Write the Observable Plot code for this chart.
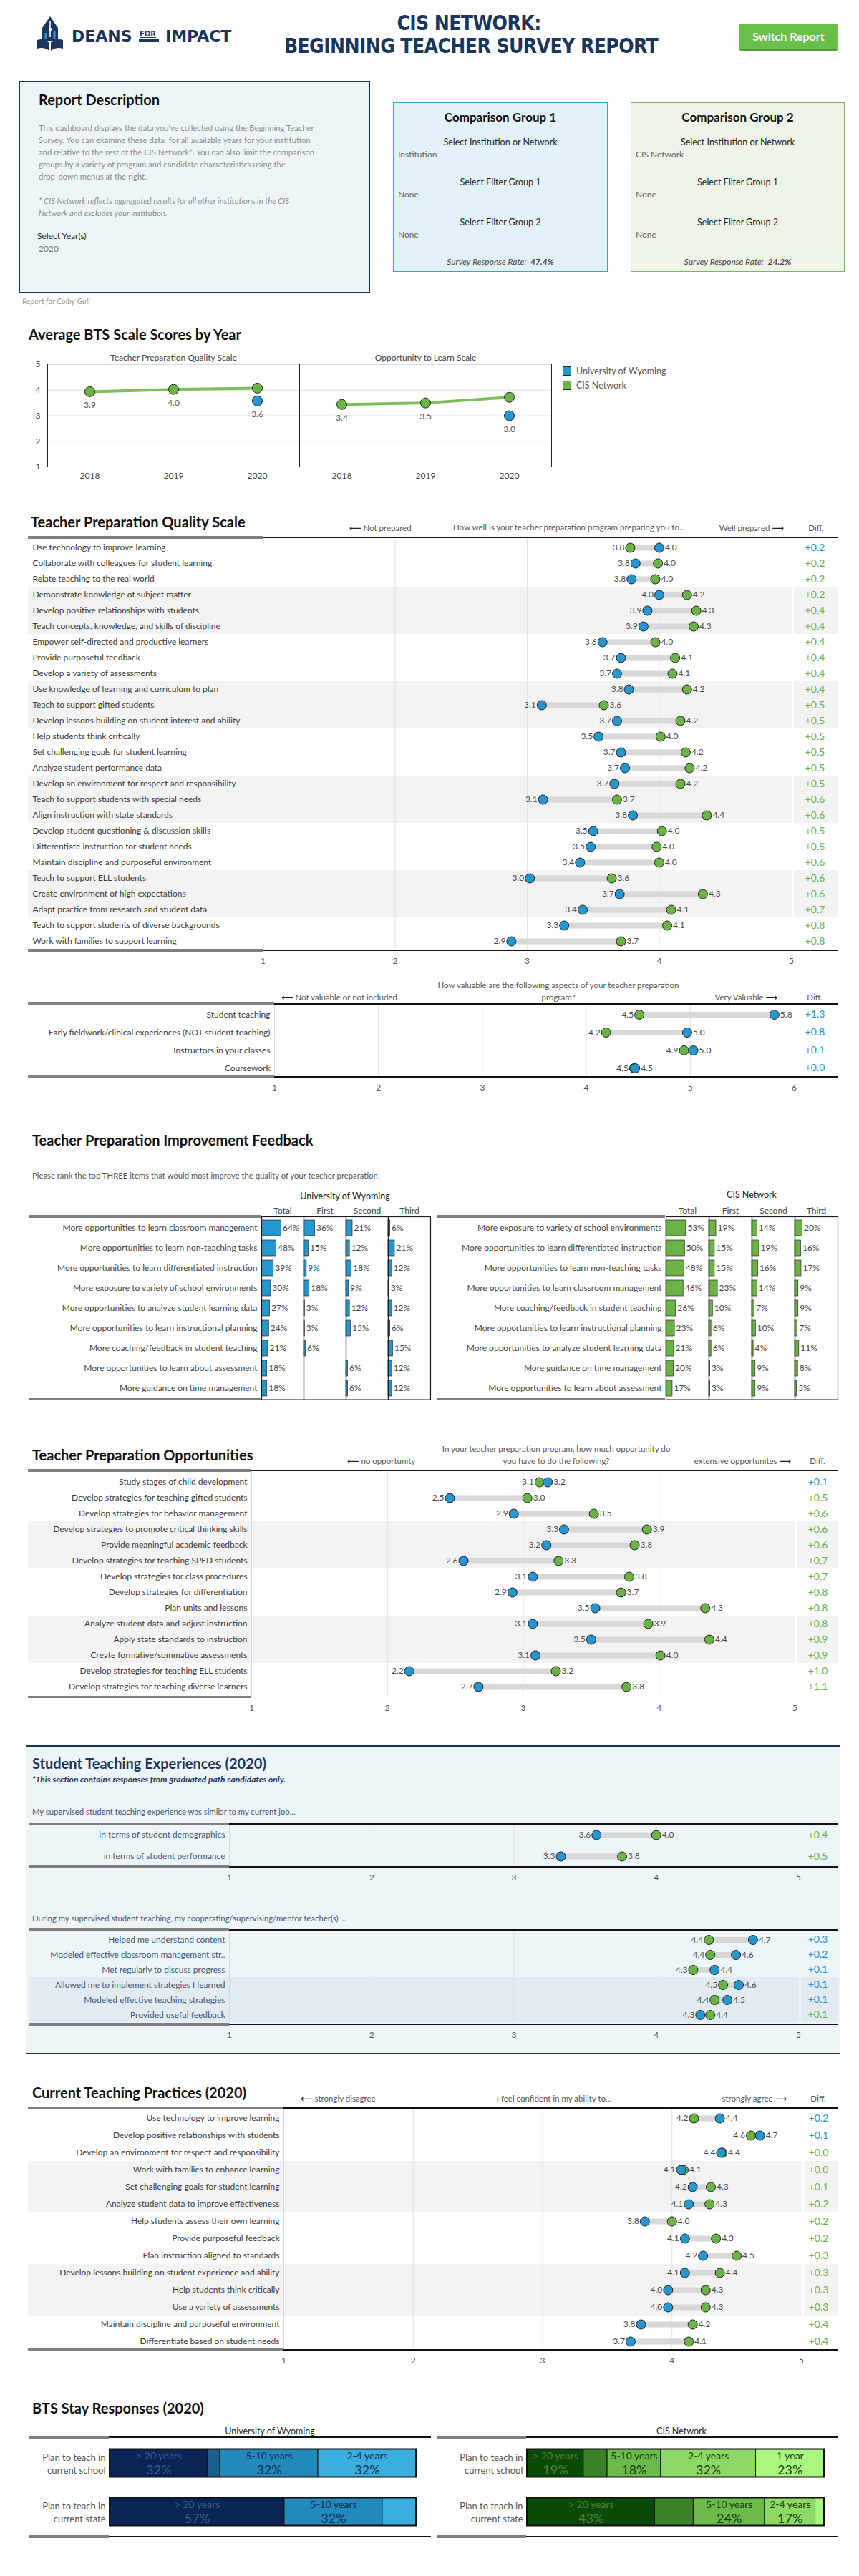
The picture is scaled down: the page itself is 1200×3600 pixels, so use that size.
<!DOCTYPE html>
<html><head><meta charset="utf-8">
<script src="https://cdn.jsdelivr.net/npm/d3@7"></script>
<script src="https://cdn.jsdelivr.net/npm/@observablehq/plot@0.6"></script>
<style>
html,body{margin:0;padding:0;background:#fff;}
#page{position:relative;width:1200px;height:3600px;overflow:hidden;font-family:Lato,"Open Sans",sans-serif;color:#333;background:#fff;}
.arr{font-family:"DejaVu Sans",sans-serif;font-weight:bold;color:#222;}
</style></head>
<body><div id="page"></div>
<script>
// ---------------- DATA ----------------
const years = [2018, 2019, 2020];
const scaleNames = ["Teacher Preparation Quality Scale", "Opportunity to Learn Scale"];
const cisTPQByYear = [3.94, 4.03, 4.08];
const uwTPQByYear = [null, null, 3.58];
const cisOTLByYear = [3.44, 3.50, 3.72];
const uwOTLByYear = [null, null, 3.00];
const responseRates = ["47.4%", "24.2%"];

const tpqItems = ["Use technology to improve learning", "Collaborate with colleagues for student learning", "Relate teaching to the real world",
  "Demonstrate knowledge of subject matter", "Develop positive relationships with students", "Teach concepts, knowledge, and skills of discipline",
  "Empower self-directed and productive learners", "Provide purposeful feedback", "Develop a variety of assessments",
  "Use knowledge of learning and curriculum to plan", "Teach to support gifted students", "Develop lessons building on student interest and ability",
  "Help students think critically", "Set challenging goals for student learning", "Analyze student performance data",
  "Develop an environment for respect and responsibility", "Teach to support students with special needs", "Align instruction with state standards",
  "Develop student questioning & discussion skills", "Differentiate instruction for student needs", "Maintain discipline and purposeful environment",
  "Teach to support ELL students", "Create environment of high expectations", "Adapt practice from research and student data",
  "Teach to support students of diverse backgrounds", "Work with families to support learning"];
const tpqUW = [4.00, 3.82, 3.79, 4.00, 3.91, 3.88, 3.57, 3.71, 3.68, 3.77, 3.11, 3.68, 3.54, 3.71, 3.74, 3.66, 3.12, 3.80, 3.50, 3.48, 3.40, 3.02, 3.70, 3.42, 3.28, 2.88];
const tpqCIS = [3.78, 3.99, 3.97, 4.21, 4.28, 4.26, 3.97, 4.12, 4.10, 4.21, 3.58, 4.16, 4.01, 4.20, 4.23, 4.16, 3.68, 4.36, 4.02, 3.98, 4.00, 3.64, 4.33, 4.09, 4.06, 3.71];
const tpqDiff = [0.2, 0.2, 0.2, 0.2, 0.4, 0.4, 0.4, 0.4, 0.4, 0.4, 0.5, 0.5, 0.5, 0.5, 0.5, 0.5, 0.6, 0.6, 0.5, 0.5, 0.6, 0.6, 0.6, 0.7, 0.8, 0.8];

const valItems = ["Student teaching", "Early fieldwork/clinical experiences (NOT student teaching)", "Instructors in your classes", "Coursework"];
const valUW = [5.81, 4.97, 5.03, 4.47];
const valCIS = [4.51, 4.19, 4.94, 4.46];
const valDiff = [1.3, 0.8, 0.1, 0.0];

const fbCols = ["Total", "First", "Second", "Third"];
const uwFbItems = ["More opportunities to learn classroom management", "More opportunities to learn non-teaching tasks",
  "More opportunities to learn differentiated instruction", "More exposure to variety of school environments",
  "More opportunities to analyze student learning data", "More opportunities to learn instructional planning",
  "More coaching/feedback in student teaching", "More opportunities to learn about assessment", "More guidance on time management"];
const uwFbTotal = [64, 48, 39, 30, 27, 24, 21, 18, 18];
const uwFbFirst = [36, 15, 9, 18, 3, 3, 6, null, null];
const uwFbSecond = [21, 12, 18, 9, 12, 15, null, 6, 6];
const uwFbThird = [6, 21, 12, 3, 12, 6, 15, 12, 12];
const cisFbItems = ["More exposure to variety of school environments", "More opportunities to learn differentiated instruction",
  "More opportunities to learn non-teaching tasks", "More opportunities to learn classroom management",
  "More coaching/feedback in student teaching", "More opportunities to learn instructional planning",
  "More opportunities to analyze student learning data", "More guidance on time management", "More opportunities to learn about assessment"];
const cisFbTotal = [53, 50, 48, 46, 26, 23, 21, 20, 17];
const cisFbFirst = [19, 15, 15, 23, 10, 6, 6, 3, 3];
const cisFbSecond = [14, 19, 16, 14, 7, 10, 4, 9, 9];
const cisFbThird = [20, 16, 17, 9, 9, 7, 11, 8, 5];

const oppItems = ["Study stages of child development", "Develop strategies for teaching gifted students", "Develop strategies for behavior management",
  "Develop strategies to promote critical thinking skills", "Provide meaningful academic feedback", "Develop strategies for teaching SPED students",
  "Develop strategies for class procedures", "Develop strategies for differentiation", "Plan units and lessons",
  "Analyze student data and adjust instruction", "Apply state standards to instruction", "Create formative/summative assessments",
  "Develop strategies for teaching ELL students", "Develop strategies for teaching diverse learners"];
const oppUW = [3.18, 2.46, 2.93, 3.30, 3.17, 2.56, 3.07, 2.92, 3.53, 3.07, 3.50, 3.09, 2.16, 2.67];
const oppCIS = [3.12, 3.03, 3.52, 3.91, 3.82, 3.26, 3.78, 3.72, 4.34, 3.92, 4.37, 4.01, 3.24, 3.76];
const oppDiff = [0.1, 0.5, 0.6, 0.6, 0.6, 0.7, 0.7, 0.8, 0.8, 0.8, 0.9, 0.9, 1.0, 1.1];

const st1Items = ["in terms of student demographics", "in terms of student performance"];
const st1UW = [3.58, 3.33];
const st1CIS = [4.00, 3.76];
const st1Diff = [0.4, 0.5];

const st2Items = ["Helped me understand content", "Modeled effective classroom management str..", "Met regularly to discuss progress",
  "Allowed me to implement strategies I learned", "Modeled effective teaching strategies", "Provided useful feedback"];
const st2UW = [4.68, 4.56, 4.41, 4.58, 4.50, 4.31];
const st2CIS = [4.37, 4.38, 4.26, 4.47, 4.41, 4.38];
const st2Diff = [0.3, 0.2, 0.1, 0.1, 0.1, 0.1];

const ctpItems = ["Use technology to improve learning", "Develop positive relationships with students", "Develop an environment for respect and responsibility",
  "Work with families to enhance learning", "Set challenging goals for student learning", "Analyze student data to improve effectiveness",
  "Help students assess their own learning", "Provide purposeful feedback", "Plan instruction aligned to standards",
  "Develop lessons building on student experience and ability", "Help students think critically", "Use a variety of assessments",
  "Maintain discipline and purposeful environment", "Differentiate based on student needs"];
const ctpUW = [4.37, 4.68, 4.38, 4.07, 4.16, 4.13, 3.79, 4.10, 4.24, 4.10, 3.97, 3.97, 3.76, 3.68];
const ctpCIS = [4.17, 4.61, 4.39, 4.09, 4.30, 4.29, 4.00, 4.34, 4.50, 4.37, 4.26, 4.26, 4.16, 4.13];
const ctpDiff = [0.2, 0.1, 0.0, 0.0, 0.1, 0.2, 0.2, 0.2, 0.3, 0.3, 0.3, 0.3, 0.4, 0.4];

const staySegments = ["> 20 years", "11-20 years", "5-10 years", "2-4 years", "1 year"];
const stayRows = ["Plan to teach in\ncurrent school", "Plan to teach in\ncurrent state"];
const uwStaySchool = [32, 4, 32, 32, 0];
const uwStayState = [57, 0, 32, 11, 0];
const cisStaySchool = [19, 8, 18, 32, 23];
const cisStayState = [43, 13, 24, 17, 3];

// ---------------- STYLE ----------------
const BLUE = "#2596cf", GREEN = "#6ab344", NAVY = "#1b365d";
const blueShades = ["#0b2454", "#1b5f91", "#2189bb", "#3aafdf", "#86d3f2"];
const greenShades = ["#0b4a06", "#3b8128", "#6bbb4a", "#8cd966", "#a9f77f"];
const blueText = ["#35609a", "#0e2a50", "#0e2a50", "#0e2a50", "#0e2a50"];
const greenText = ["#4e8040", "#173d0e", "#173d0e", "#173d0e", "#173d0e"];
const fmt1 = d3.format(".1f");
const baseStyle = {fontFamily: "Lato, sans-serif", fontSize: "12px", background: "transparent", overflow: "visible", color: "#444"};

const page = document.getElementById("page");
function add(html, css) { const d = document.createElement("div"); d.style.cssText = css; d.innerHTML = html; page.appendChild(d); return d; }
function T(text, x, y, css = "", anchor = "start") {
  const tx = anchor === "middle" ? "-50%" : anchor === "end" ? "-100%" : "0";
  return add(text, `position:absolute;white-space:nowrap;line-height:1.2;left:${x}px;top:${y}px;transform:translate(${tx},-50%);${css}`);
}
function box(x, y, w, h, css) { return add("", `position:absolute;box-sizing:border-box;left:${x}px;top:${y}px;width:${w}px;height:${h}px;${css}`); }
function hline(x1, x2, y, color, w) { box(x1, y - w / 2, x2 - x1, w, `background:${color}`); }
function sectionLines(y, sep, l = 39, r = 1170) { hline(l, sep, y, "#7f7f7f", 3.5); hline(sep, r, y, "#111", 1.6); }
function place(node, x, y) {
  const d = add("", `position:absolute;left:${x}px;top:${y}px;width:${node.getAttribute("width")}px;`);
  d.appendChild(node);
}
const titleCss = "font-weight:bold;font-size:20px;color:#111";
const hdrCss = "font-size:11.5px;color:#555";

// ---------------- CHART BUILDERS ----------------
function dumbbell(o) {
  const {items, uw, cis, diff, domain, range, step, left = 39, right = 1170, diffX, labelAlign = "end",
    bands = true, bandFill = "#f3f3f3", gapColor = "#fff", labelFill = "#3a3a3a"} = o;
  const data = items.map((label, i) => ({label, i, uw: uw[i], cis: cis[i], diff: diff[i]}));
  const n = items.length, mb = 34;
  const grid = d3.range(domain[0] + 1, domain[1]);
  const ticks = d3.range(domain[0], domain[1] + 1);
  const sep = range[0];
  const labelMark = labelAlign === "start"
    ? Plot.text(data, {y: "label", text: "label", frameAnchor: "left", textAnchor: "start", dx: 6, fill: labelFill})
    : Plot.text(data, {y: "label", text: "label", frameAnchor: "left", textAnchor: "end", dx: sep - left - 6, fill: labelFill});
  return Plot.plot({
    width: 1200, height: n * step + mb, marginTop: 0, marginBottom: mb, marginLeft: left, marginRight: 1200 - right,
    style: baseStyle,
    x: {domain, range, axis: null},
    y: {type: "band", domain: items, padding: 0, axis: null},
    marks: [
      bands ? Plot.cell(data.filter(d => Math.floor(d.i / 3) % 2 === 1), {y: "label", fill: bandFill}) : null,
      Plot.ruleX(grid, {stroke: "#e2e2e2"}),
      Plot.ruleX([domain[0]], {stroke: "#d9d9d9"}),
      Plot.ruleX([domain[1]], {dx: 2, stroke: gapColor, strokeWidth: 3}),
      Plot.ruleY(data, {y: "label", x1: "uw", x2: "cis", stroke: "#d8d8d8", strokeWidth: 8}),
      Plot.dot(data, {y: "label", x: "cis", r: 6.5, fill: GREEN, stroke: "#1f1f1f", strokeWidth: 1}),
      Plot.dot(data, {y: "label", x: "uw", r: 6.5, fill: BLUE, stroke: "#1f1f1f", strokeWidth: 1}),
      Plot.text(data, {y: "label", x: d => Math.min(d.uw, d.cis), text: d => fmt1(Math.min(d.uw, d.cis)), textAnchor: "end", dx: -8, fill: "#4a4a4a"}),
      Plot.text(data, {y: "label", x: d => Math.max(d.uw, d.cis), text: d => fmt1(Math.max(d.uw, d.cis)), textAnchor: "start", dx: 8, fill: "#4a4a4a"}),
      Plot.text(data, {y: "label", text: d => "+" + d.diff.toFixed(1), frameAnchor: "right", dx: diffX - right, textAnchor: "middle", fontSize: 14, fill: d => d.uw > d.cis ? BLUE : GREEN}),
      labelMark,
      Plot.axisX({ticks, tickSize: 0, tickPadding: 10, tickFormat: "d", label: null, color: "#555", fontSize: 12})
    ]
  });
}

function feedback({items, cols, values, color, width, marginLeft, marginRight}) {
  const long = items.flatMap((item, i) => cols.map((col, c) => ({item, col, pct: values[c][i]}))).filter(d => d.pct != null);
  const maxT = d3.max(values[0]);
  const step = 28.4;
  return Plot.plot({
    width, height: 25 + items.length * step + 2, marginTop: 25, marginBottom: 2, marginLeft, marginRight,
    style: baseStyle,
    fx: {domain: cols, padding: 0, axis: "top", label: null, tickSize: 0, tickPadding: 4},
    x: {domain: [0, maxT * 2.15], axis: null},
    y: {domain: items, padding: 0, axis: "left", label: null, tickSize: 0, tickPadding: 6},
    marks: [
      Plot.barX(long, {fx: "col", y: "item", x: "pct", fill: color, stroke: "#2a2a2a", strokeWidth: 0.7, insetTop: 3, insetBottom: 3}),
      Plot.text(long, {fx: "col", y: "item", x: "pct", text: d => d.pct + "%", textAnchor: "start", dx: 2, fill: "#444"}),
      Plot.frame({stroke: "#1a1a1a", strokeWidth: 1.2})
    ]
  });
}

function stay({rows, series, colors, textColors, width, marginLeft, marginRight}) {
  const long = rows.flatMap((row, r) => staySegments.map((seg, s) => ({row, seg, s, pct: series[r][s]}))).filter(d => d.pct > 0);
  const totals = rows.map((row, r) => ({row, total: d3.sum(series[r])}));
  return Plot.plot({
    width, height: 137, marginTop: 0, marginBottom: 1, marginLeft, marginRight,
    style: baseStyle,
    x: {domain: [0, 100], axis: null},
    y: {domain: rows, padding: 0, axis: null},
    marks: [
      Plot.barX(long, Plot.stackX({y: "row", x: "pct", fill: d => colors[d.s], insetTop: 14.5, insetBottom: 14.5, stroke: "#111", strokeWidth: 1})),
      Plot.barX(totals, {y: "row", x: "total", fill: "none", stroke: "#111", strokeWidth: 2, insetTop: 14.5, insetBottom: 14.5}),
      Plot.text(long, Plot.stackX({y: "row", x: "pct", text: d => d.pct >= 15 ? d.seg : "", dy: -10, fontSize: 14, fill: d => textColors[d.s]})),
      Plot.text(long, Plot.stackX({y: "row", x: "pct", text: d => d.pct >= 15 ? d.pct + "%" : "", dy: 10, fontSize: 18, fill: d => textColors[d.s]})),
      Plot.text(rows, {y: d => d, text: d => d, frameAnchor: "left", textAnchor: "end", dx: -6, fill: "#555", fontSize: 13, lineHeight: 1.35})
    ]
  });
}

// ---------------- HEADER ----------------
const logoSVG = `<svg width="300" height="56" xmlns="http://www.w3.org/2000/svg">
<g fill="${NAVY}">
<path d="M20 1 L31 17 L31 35 L9 35 L9 17 Z"/>
<path d="M2 34 Q11 31 19 37 L19 49 Q11 43 2 46 Z"/>
<path d="M38 34 Q29 31 21 37 L21 49 Q29 43 38 46 Z"/>
</g>
<path d="M20 7 L20 30" stroke="#fff" stroke-width="1.6"/>
<circle cx="20" cy="19" r="2.3" fill="#fff"/>
<rect x="12.5" y="24" width="3" height="9" fill="#3a8fc9"/>
<rect x="24.5" y="22" width="3" height="11" fill="#3a8fc9"/>
<text x="50" y="36" font-family="DejaVu Sans" font-weight="bold" font-size="22" fill="${NAVY}">DEANS</text>
<text x="145" y="29" font-family="DejaVu Sans" font-weight="bold" font-size="10" fill="${NAVY}" text-decoration="underline">FOR</text>
<rect x="144" y="33" width="28" height="3" fill="${NAVY}"/>
<text x="181" y="36" font-family="DejaVu Sans" font-weight="bold" font-size="22" fill="${NAVY}">IMPACT</text>
</svg>`;
add(logoSVG, "position:absolute;left:50px;top:22px;");
const bigTitle = `font-family:'DejaVu Sans Condensed','DejaVu Sans',sans-serif;font-weight:bold;font-size:28px;color:${NAVY};letter-spacing:-0.6px`;
T("CIS NETWORK:", 655, 33, bigTitle, "middle");
T("BEGINNING TEACHER SURVEY REPORT", 658, 65, bigTitle, "middle");
box(1032, 33, 139, 36, "background:#6abf4b;border-radius:4px;box-shadow:0 2px 0 #4f9a34;");
T("Switch Report", 1101.5, 51, "color:#fff;font-weight:bold;font-size:16px", "middle");

// Report description
box(27, 113, 490, 297, `background:#eef5f9;border:1px solid ${NAVY};border-top-width:2px;border-bottom-width:2px;`);
T("Report Description", 54, 139, "font-weight:bold;font-size:20px;color:#111");
const descLines = ["This dashboard displays the data you've collected using the Beginning Teacher",
  "Survey. You can examine these data&nbsp; for all available years for your institution",
  "and relative to the rest of the CIS Network*. You can also limit the comparison",
  "groups by a variety of program and candidate characteristics using the",
  "drop-down menus at the right."];
descLines.forEach((l, i) => T(l, 54, 179 + i * 17, "font-size:11.3px;color:#8c8c8c"));
["* CIS Network reflects aggregated results for all other institutions in the CIS", "Network and excludes your institution."]
  .forEach((l, i) => T(l, 54, 281 + i * 17, "font-size:11.3px;color:#8c8c8c;font-style:italic"));
T("Select Year(s)", 52, 330, "font-size:12px;color:#222");
T("2020", 54, 348, "font-size:12px;color:#777");

function groupBox(x, w, bg, border, title, inst, rate) {
  box(x, 143, w, 237, `background:${bg};border:1.5px solid ${border};`);
  const cx = x + w / 2;
  T(title, cx, 164, "font-weight:bold;font-size:17px;color:#111", "middle");
  T("Select Institution or Network", cx, 198, "font-size:12.5px;color:#222", "middle");
  T(inst, x + 7, 216, "font-size:12px;color:#666");
  T("Select Filter Group 1", cx, 254, "font-size:12.5px;color:#222", "middle");
  T("None", x + 7, 272, "font-size:12px;color:#666");
  T("Select Filter Group 2", cx, 310, "font-size:12.5px;color:#222", "middle");
  T("None", x + 7, 328, "font-size:12px;color:#666");
  T(`Survey Response Rate:&nbsp; <b>${rate}</b>`, cx, 366, "font-size:12px;color:#444;font-style:italic", "middle");
}
groupBox(549, 300, "#e3f1f8", "#3aa0d5", "Comparison Group 1", "Institution", responseRates[0]);
groupBox(881, 299, "#eef5e8", "#74bd55", "Comparison Group 2", "CIS Network", responseRates[1]);
T("Report for Colby Gull", 31, 421, "font-size:11px;color:#9a9a9a;font-style:italic");

// ---------------- LINE CHART ----------------
T("Average BTS Scale Scores by Year", 40, 467, titleCss);
const cisSeries = [cisTPQByYear, cisOTLByYear], uwSeries = [uwTPQByYear, uwOTLByYear];
const cisPts = [], uwPts = [];
scaleNames.forEach((s, k) => years.forEach((yr, i) => {
  if (cisSeries[k][i] != null) cisPts.push({scale: s, year: yr, value: cisSeries[k][i]});
  if (uwSeries[k][i] != null) uwPts.push({scale: s, year: yr, value: uwSeries[k][i]});
}));
const labelPts = [...uwPts, ...cisPts.filter(d => !uwPts.some(u => u.scale === d.scale && u.year === d.year))];
const lineChart = Plot.plot({
  width: 780, height: 200, marginTop: 29, marginBottom: 28, marginLeft: 66, marginRight: 10,
  style: baseStyle,
  fx: {domain: scaleNames, padding: 0, label: null, axis: "top", tickSize: 0, tickPadding: 6},
  x: {type: "point", domain: years, padding: 0.5, label: null, tickSize: 0, tickPadding: 8, tickFormat: d => String(d)},
  y: {domain: [1, 5], ticks: [1, 2, 3, 4, 5], tickSize: 0, tickPadding: 10, label: null, tickFormat: d => String(d)},
  marks: [
    Plot.gridY([2, 3, 4, 5], {stroke: "#dedede", strokeOpacity: 1}),
    Plot.frame({anchor: "left", stroke: "#222"}),
    Plot.frame({anchor: "right", stroke: "#222"}),
    Plot.line(cisPts, {fx: "scale", x: "year", y: "value", stroke: "#7cbf5a", strokeWidth: 4}),
    Plot.dot(cisPts, {fx: "scale", x: "year", y: "value", r: 7, fill: GREEN, stroke: "#222", strokeWidth: 1}),
    Plot.dot(uwPts, {fx: "scale", x: "year", y: "value", r: 7, fill: BLUE, stroke: "#222", strokeWidth: 1}),
    Plot.text(labelPts, {fx: "scale", x: "year", y: "value", text: d => fmt1(d.value), dy: 19, fill: "#555"})
  ]
});
place(lineChart, 0, 480);
box(786, 512, 12, 13, `background:${BLUE};border:1.3px solid #222`);
T("University of Wyoming", 805, 518, "font-size:12.5px;color:#555");
box(786, 532, 12, 13, `background:${GREEN};border:1.3px solid #222`);
T("CIS Network", 805, 538, "font-size:12.5px;color:#555");

// ---------------- TEACHER PREPARATION QUALITY SCALE ----------------
const arrL = `<span class="arr">⟵</span> `, arrR = ` <span class="arr">⟶</span>`;
T("Teacher Preparation Quality Scale", 43, 729, titleCss);
T(arrL + "Not prepared", 488, 738, hdrCss);
T("How well is your teacher preparation program preparing you to...", 795, 737, hdrCss, "middle");
T("Well prepared" + arrR, 1095, 738, hdrCss, "end");
T("Diff.", 1140, 738, hdrCss, "middle");
place(dumbbell({items: tpqItems, uw: tpqUW, cis: tpqCIS, diff: tpqDiff, domain: [1, 5], range: [367, 1105], step: 22.15, diffX: 1138, labelAlign: "start"}), 0, 752);
sectionLines(751, 367);
sectionLines(752 + 26 * 22.15, 367);

// Valuable aspects
T("How valuable are the following aspects of your teacher preparation", 780, 1377, hdrCss, "middle");
T("program?", 780, 1394, hdrCss, "middle");
T(arrL + "Not valuable or not included", 393, 1394, hdrCss);
T("Very Valuable" + arrR, 1086, 1394, hdrCss, "end");
T("Diff.", 1138, 1394, hdrCss, "middle");
place(dumbbell({items: valItems, uw: valUW, cis: valCIS, diff: valDiff, domain: [1, 6], range: [383, 1109], step: 25.3, diffX: 1138, bands: false}), 0, 1404);
sectionLines(1403, 383);
sectionLines(1404 + 4 * 25.3, 383);

// ---------------- IMPROVEMENT FEEDBACK ----------------
T("Teacher Preparation Improvement Feedback", 45, 1593, titleCss);
T("Please rank the top THREE items that would most improve the quality of your teacher preparation.", 45, 1643, "font-size:11.3px;color:#555");
T("University of Wyoming", 482, 1671, "font-size:12.5px;color:#222", "middle");
T("CIS Network", 1050, 1669, "font-size:12.5px;color:#222", "middle");
place(feedback({items: uwFbItems, cols: fbCols, values: [uwFbTotal, uwFbFirst, uwFbSecond, uwFbThird], color: BLUE, width: 605, marginLeft: 364, marginRight: 4}), 0, 1675);
place(feedback({items: cisFbItems, cols: fbCols, values: [cisFbTotal, cisFbFirst, cisFbSecond, cisFbThird], color: GREEN, width: 562, marginLeft: 319, marginRight: 2}), 610, 1675);
hline(40, 364, 1700, "#7f7f7f", 3.5); hline(40, 364, 1700 + 9 * 28.4, "#7f7f7f", 3.5);
hline(610, 929, 1700, "#7f7f7f", 3.5); hline(610, 929, 1700 + 9 * 28.4, "#7f7f7f", 3.5);

// ---------------- OPPORTUNITIES ----------------
T("Teacher Preparation Opportunities", 45, 2033, titleCss);
T("In your teacher preparation program, how much opportunity do", 777, 2025, hdrCss, "middle");
T("you have to do the following?", 777, 2042, hdrCss, "middle");
T(arrL + "no opportunity", 485, 2042, hdrCss);
T("extensive opportunites" + arrR, 1105, 2042, hdrCss, "end");
T("Diff.", 1142, 2042, hdrCss, "middle");
place(dumbbell({items: oppItems, uw: oppUW, cis: oppCIS, diff: oppDiff, domain: [1, 5], range: [351, 1110], step: 22.54, diffX: 1142}), 0, 2056);
sectionLines(2055, 351);
sectionLines(2056 + 14 * 22.54, 351);

// ---------------- STUDENT TEACHING ----------------
box(36, 2439, 1138, 431, `background:#eef5f9;border:1px solid ${NAVY};border-top-width:2px;`);
T("Student Teaching Experiences (2020)", 45, 2464, `font-weight:bold;font-size:20px;color:${NAVY}`);
T("*This section contains responses from graduated path candidates only.", 45, 2487, `font-size:12px;font-style:italic;font-weight:bold;color:${NAVY}`);
T("My supervised student teaching experience was similar to my current job...", 45, 2532, "font-size:11.3px;color:#3b5578");
const stOpts = {domain: [1, 5], range: [320, 1115], left: 40, diffX: 1142, bandFill: "#e2ebf1", gapColor: "#eef5f9", labelFill: "#3b5578"};
place(dumbbell({...stOpts, items: st1Items, uw: st1UW, cis: st1CIS, diff: st1Diff, step: 30, bands: false}), 0, 2549);
sectionLines(2549, 320, 40);
sectionLines(2549 + 2 * 30, 320, 40);
T("During my supervised student teaching, my cooperating/supervising/mentor teacher(s) ...", 45, 2681, "font-size:11.3px;color:#3b5578");
place(dumbbell({...stOpts, items: st2Items, uw: st2UW, cis: st2CIS, diff: st2Diff, step: 21.8}), 0, 2698);
sectionLines(2697, 320, 40);
sectionLines(2698 + 6 * 21.8, 320, 40);

// ---------------- CURRENT TEACHING PRACTICES ----------------
T("Current Teaching Practices (2020)", 45, 2924, titleCss);
T(arrL + "strongly disagree", 420, 2933, hdrCss);
T("I feel confident in my ability to...", 774, 2933, hdrCss, "middle");
T("strongly agree" + arrR, 1099, 2933, hdrCss, "end");
T("Diff.", 1143, 2933, hdrCss, "middle");
place(dumbbell({items: ctpItems, uw: ctpUW, cis: ctpCIS, diff: ctpDiff, domain: [1, 5], range: [396, 1119], step: 24.08, diffX: 1143}), 0, 2947);
sectionLines(2946, 396);
sectionLines(2947 + 14 * 24.08, 396);

// ---------------- STAY RESPONSES ----------------
T("BTS Stay Responses (2020)", 45, 3365, titleCss);
T("University of Wyoming", 377, 3397, "font-size:12.5px;color:#222", "middle");
T("CIS Network", 952, 3397, "font-size:12.5px;color:#222", "middle");
place(stay({rows: stayRows, series: [uwStaySchool, uwStayState], colors: blueShades, textColors: blueText, width: 610, marginLeft: 153, marginRight: 29}), 0, 3408);
place(stay({rows: stayRows, series: [cisStaySchool, cisStayState], colors: greenShades, textColors: greenText, width: 560, marginLeft: 126, marginRight: 19}), 610, 3408);
sectionLines(3406, 152, 40, 602); sectionLines(3545, 152, 40, 602);
sectionLines(3406, 735, 610, 1170); sectionLines(3545, 735, 610, 1170);
</script>
</body></html>
